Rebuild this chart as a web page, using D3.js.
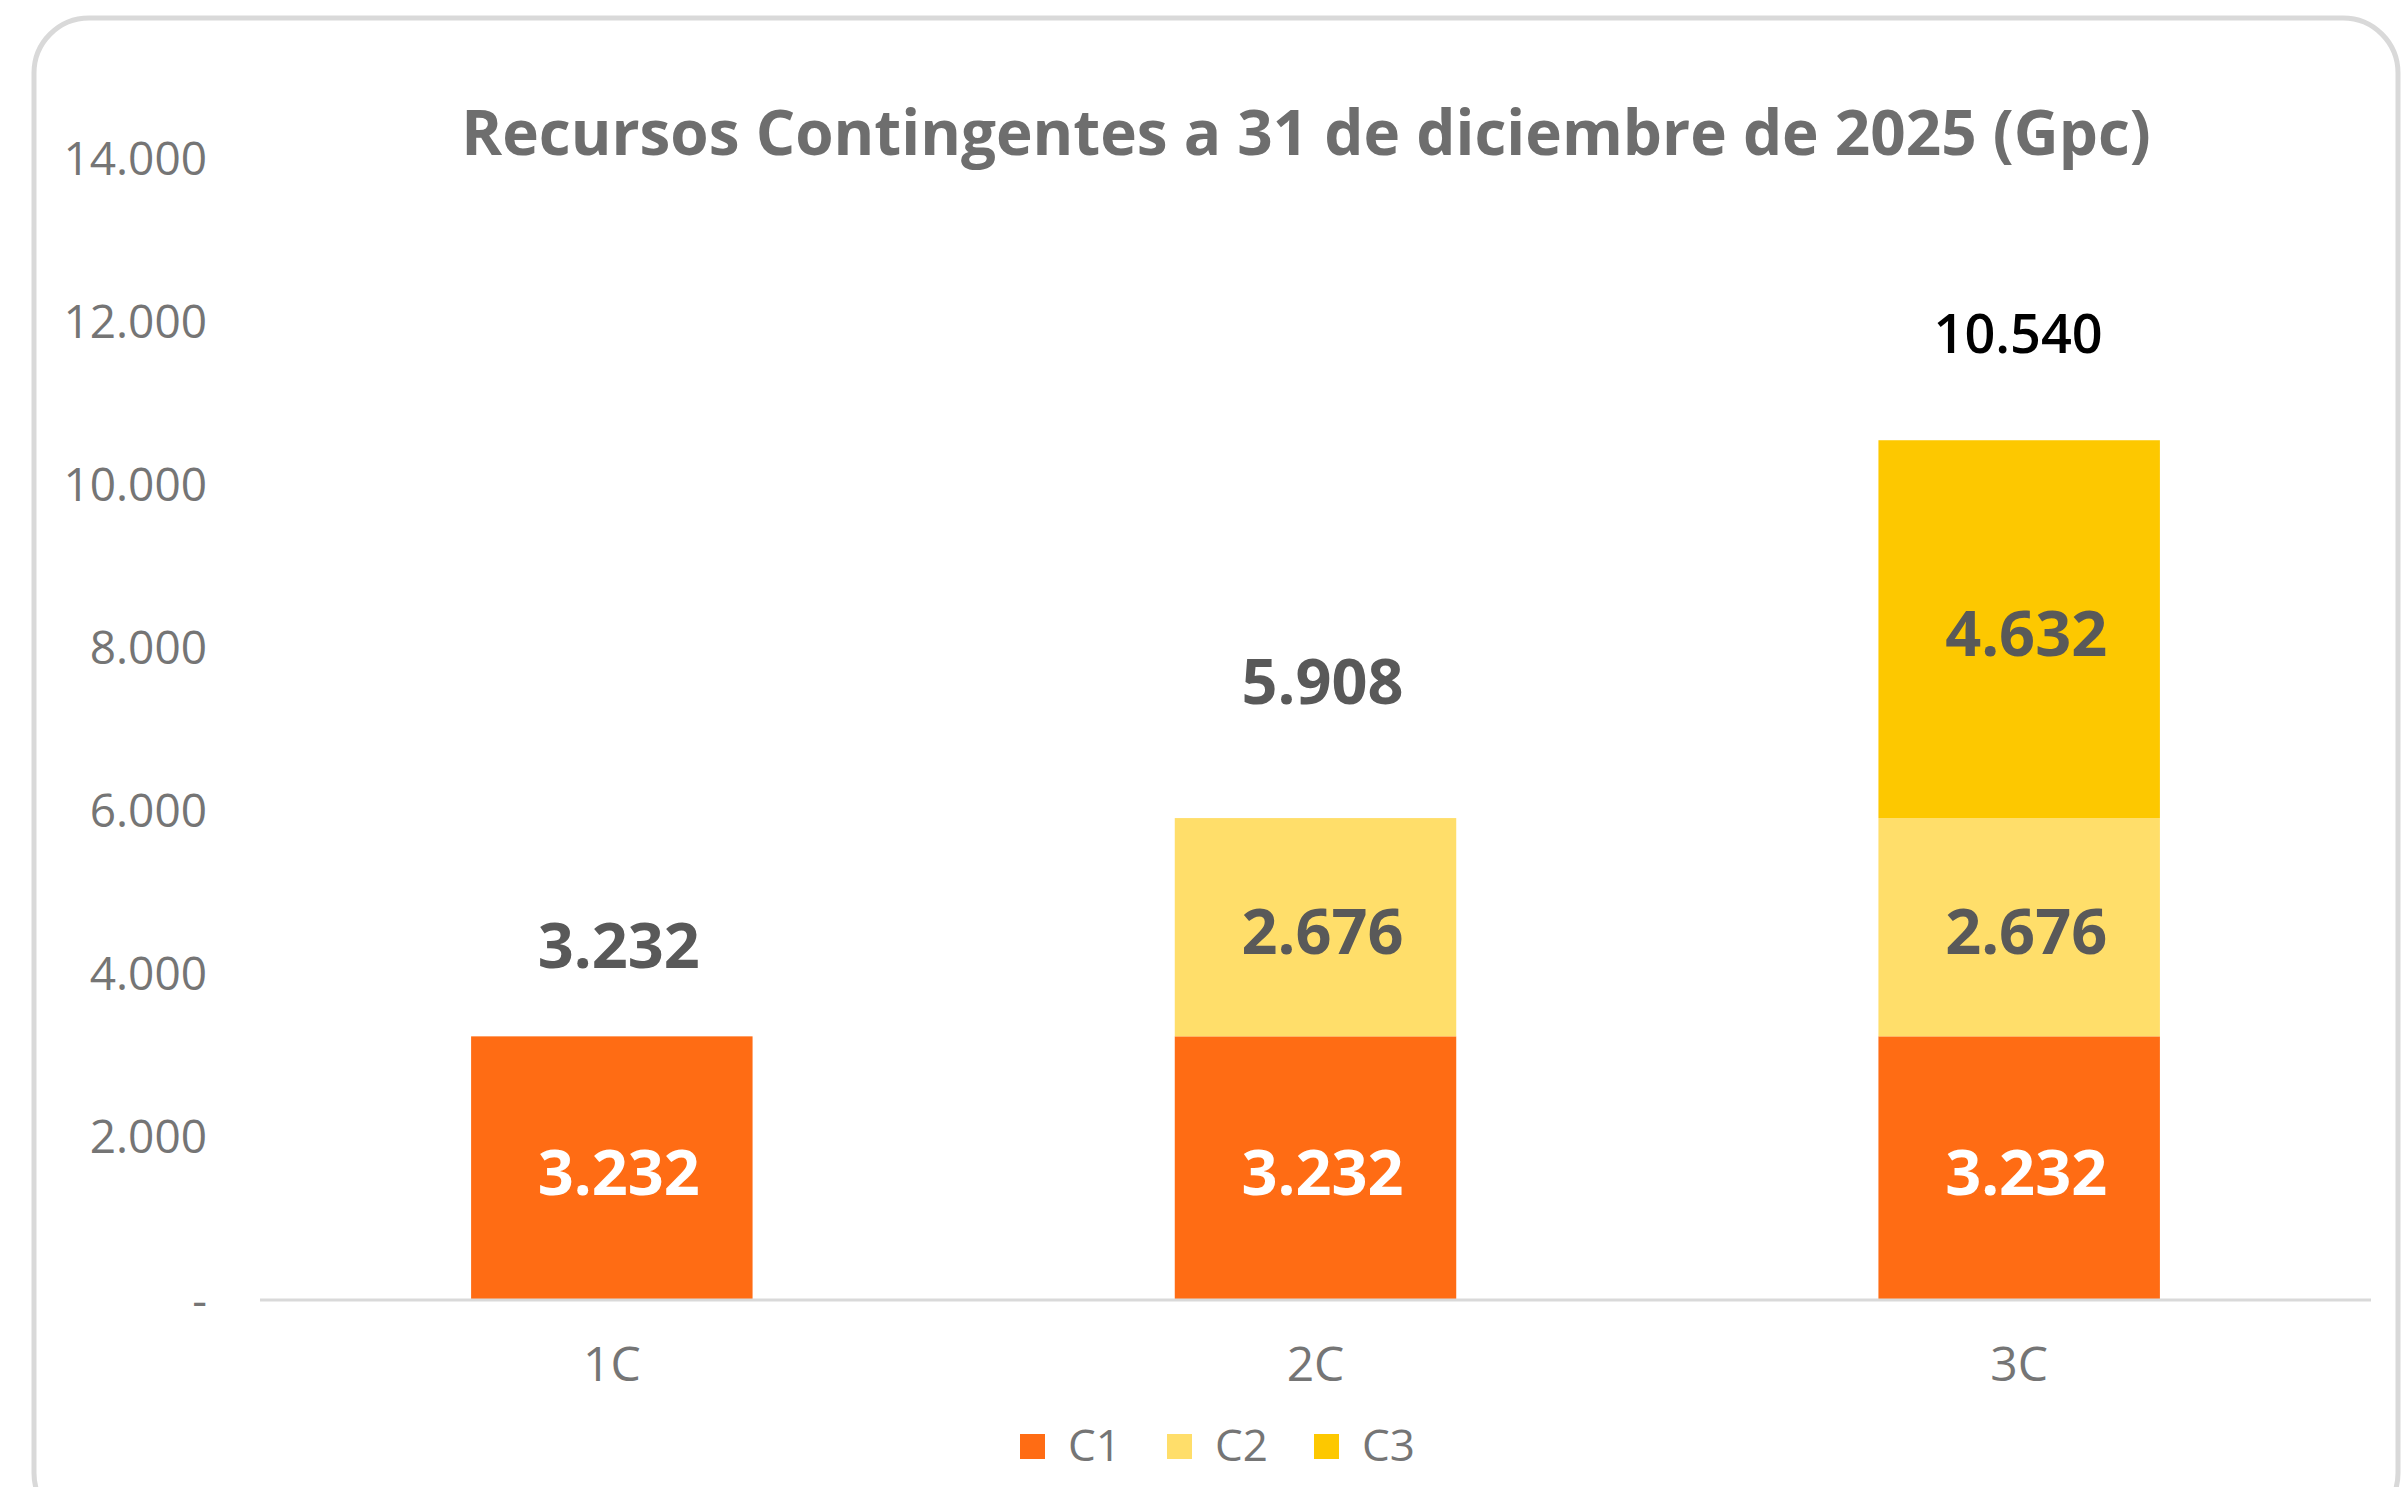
<!DOCTYPE html>
<html>
<head>
<meta charset="utf-8" />
<title>Recursos Contingentes</title>
<script src="https://d3js.org/d3.v7.min.js"></script>
<style>
    body { margin: 0; background: #ffffff; font-family: "Open Sans", sans-serif; }
    .tick text { fill: #757575; }
</style>
</head>
<body>
<div id="graphic"></div>
<script>
    // data
    var categories = ["1C", "2C", "3C"];
    var seriesNames = ["C1", "C2", "C3"];
    var c1 = [3232, 3232, 3232];
    var c2 = [0, 2676, 2676];
    var c3 = [0, 0, 4632];
    var yTicks = [0, 2000, 4000, 6000, 8000, 10000, 12000, 14000];

    var colors = ["#ff6c14", "#ffde6a", "#fdc800"];
    var insideColors = ["#ffffff", "#595959", "#595959"];
    // total labels were placed by hand in the original: lift above bar top, x nudge
    var totalLift = [90, 136, 106];
    var totalNudge = [7, 7, -1];

    var W = 2403, H = 1487;
    var margin = {left: 260, right: 32, top: 158, bottom: 187};

    var es = d3.formatLocale({decimal: ",", thousands: ".", grouping: [3], currency: ["", ""]});
    var fmt = es.format(",d");

    var rows = categories.map(function (c, i) {
        return {cat: c, C1: c1[i], C2: c2[i], C3: c3[i], total: c1[i] + c2[i] + c3[i]};
    });
    var stack = d3.stack().keys(seriesNames)(rows);

    var svg = d3.select("#graphic").append("svg")
        .attr("width", W)
        .attr("height", H);

    // chart frame
    svg.append("rect")
        .attr("x", 34).attr("y", 18)
        .attr("width", 2364).attr("height", 1510)
        .attr("rx", 55).attr("ry", 55)
        .attr("fill", "#ffffff")
        .attr("stroke", "#d9d9d9")
        .attr("stroke-width", 5);

    var x = d3.scaleBand()
        .domain(categories)
        .range([margin.left, W - margin.right])
        .paddingInner(0.6)
        .paddingOuter(0.3);

    var y = d3.scaleLinear()
        .domain([0, 14000])
        .range([H - margin.bottom, margin.top]);

    // y axis (labels only)
    var gy = svg.append("g")
        .attr("transform", "translate(" + (margin.left - 53) + ",0)")
        .call(d3.axisLeft(y).tickValues(yTicks).tickSize(0).tickPadding(0)
            .tickFormat(function (d) { return d === 0 ? "-" : fmt(d); }));
    gy.select(".domain").remove();
    gy.selectAll("text")
        .style("font-size", "46px")
        .style("font-family", "'Open Sans', sans-serif")
        .attr("dy", "0.35em");

    // bars
    var layer = svg.selectAll(".layer")
        .data(stack)
        .enter().append("g")
        .attr("class", "layer")
        .attr("fill", function (d, i) { return colors[i]; });

    layer.selectAll("rect")
        .data(function (d) { return d.filter(function (p) { return p[1] - p[0] > 0; }); })
        .enter().append("rect")
        .attr("x", function (d) { return x(d.data.cat); })
        .attr("width", x.bandwidth())
        .attr("y", function (d) { return y(d[1]); })
        .attr("height", function (d) { return y(d[0]) - y(d[1]); });

    // x axis line
    svg.append("line")
        .attr("x1", margin.left).attr("x2", W - margin.right)
        .attr("y1", y(0)).attr("y2", y(0))
        .attr("stroke", "#d9d9d9")
        .attr("stroke-width", 3);

    // x axis labels
    var gx = svg.append("g")
        .attr("transform", "translate(0," + y(0) + ")")
        .call(d3.axisBottom(x).tickSize(0).tickPadding(0));
    gx.select(".domain").remove();
    gx.selectAll("text")
        .attr("y", 64)
        .attr("dy", "0.35em")
        .style("font-size", "48px")
        .style("font-family", "'Open Sans', sans-serif");

    // inside labels
    layer.each(function (s, si) {
        d3.select(this).selectAll("text")
            .data(s.filter(function (p) { return p[1] - p[0] > 0; }))
            .enter().append("text")
            .attr("x", function (d) { return x(d.data.cat) + x.bandwidth() / 2 + 7; })
            .attr("y", function (d) { return y((d[0] + d[1]) / 2) + 5; })
            .attr("dy", "0.35em")
            .attr("text-anchor", "middle")
            .attr("fill", insideColors[si])
            .style("font-size", "63px")
            .style("font-weight", "bold")
            .text(function (d) { return fmt(d[1] - d[0]); });
    });

    // totals
    svg.selectAll(".total")
        .data(rows)
        .enter().append("text")
        .attr("class", "total")
        .attr("x", function (d, i) { return x(d.cat) + x.bandwidth() / 2 + totalNudge[i]; })
        .attr("y", function (d, i) { return y(d.total) - totalLift[i]; })
        .attr("dy", "0.35em")
        .attr("text-anchor", "middle")
        .attr("fill", function (d, i) { return i === 2 ? "#000000" : "#595959"; })
        .style("font-size", function (d, i) { return i === 2 ? "54px" : "63px"; })
        .style("font-weight", function (d, i) { return i === 2 ? "600" : "bold"; })
        .style("font-family", "'Open Sans', sans-serif")
        .text(function (d) { return fmt(d.total); });

    // title
    svg.append("text")
        .attr("x", 1306)
        .attr("y", 133)
        .attr("dy", "0.35em")
        .attr("text-anchor", "middle")
        .attr("fill", "#6e6e6e")
        .style("font-size", "62px")
        .style("font-weight", "bold")
        .text("Recursos Contingentes a 31 de diciembre de 2025 (Gpc)");

    // legend
    var legend = svg.append("g").attr("transform", "translate(1020,1446)");
    var item = legend.selectAll("g")
        .data(seriesNames)
        .enter().append("g")
        .attr("transform", function (d, i) { return "translate(" + (i * 147) + ",0)"; });
    item.append("rect")
        .attr("x", 0).attr("y", -12)
        .attr("width", 25).attr("height", 25)
        .attr("fill", function (d, i) { return colors[i]; });
    item.append("text")
        .attr("x", 48)
        .attr("y", 0)
        .attr("dy", "0.35em")
        .attr("fill", "#757575")
        .style("font-size", "44px")
        .text(function (d) { return d; });
</script>
</body>
</html>
